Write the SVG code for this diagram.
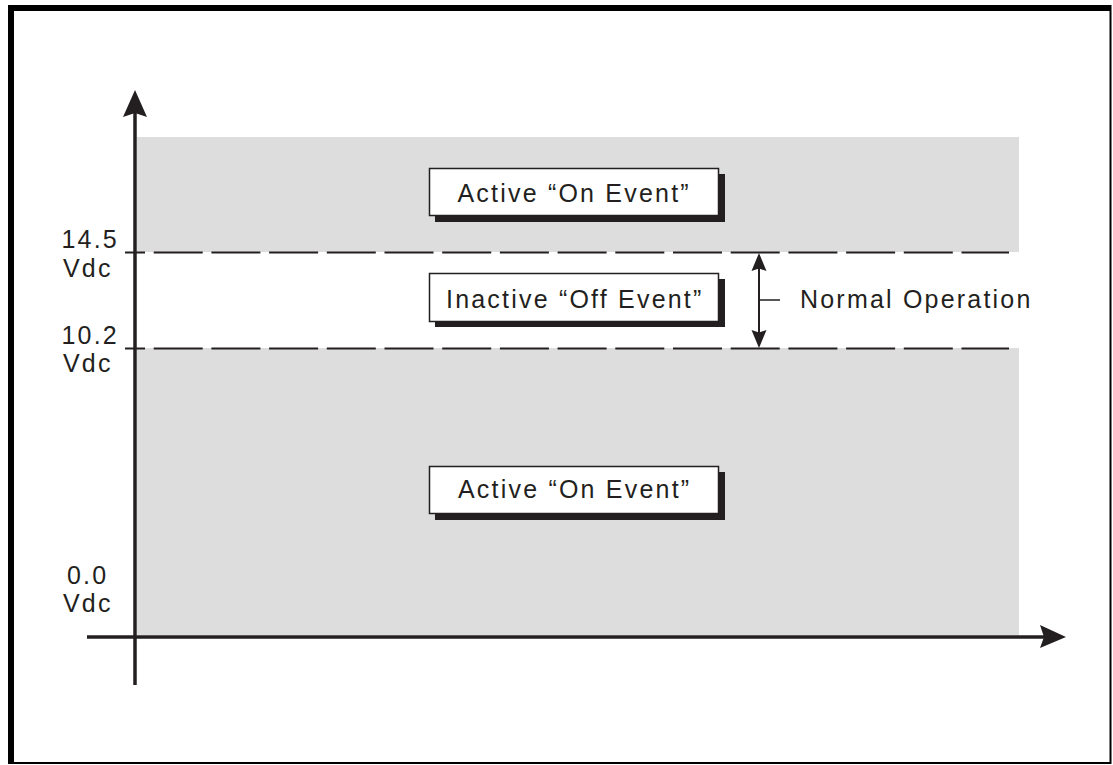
<svg xmlns="http://www.w3.org/2000/svg" width="1113" height="765" viewBox="0 0 1113 765">
<style>
.lbl{font-family:"Liberation Sans",Arial,sans-serif;font-size:25px;letter-spacing:2.2px;fill:#231f20}
.dash{stroke:#231f20;stroke-width:2;fill:none;stroke-dasharray:49 8.7;stroke-dashoffset:29}
.box{fill:#fff;stroke:#231f20;stroke-width:1.5}
.shadow{fill:#231f20}
.ink{fill:#231f20}
.axis{stroke:#231f20;stroke-width:3.5;fill:none}
</style>
<rect width="1113" height="765" fill="#fff"/>
<g id="frame" fill="none" stroke="#000">
<line x1="11" y1="5" x2="11" y2="764" stroke-width="6"/>
<line x1="8" y1="8" x2="1111" y2="8" stroke-width="6"/>
<line x1="1110.5" y1="5" x2="1110.5" y2="764" stroke-width="2"/>
<line x1="8" y1="763" x2="1111" y2="763" stroke-width="2"/>
</g>
<g id="bands" fill="#dddddd">
<rect x="137" y="137" width="882" height="115"/>
<rect x="137" y="348" width="882" height="287"/>
</g>
<g id="connectors">
<line class="dash" x1="125" y1="252.5" x2="1009" y2="252.5"/>
<line class="dash" x1="125" y1="348.5" x2="1009" y2="348.5"/>
<line class="axis" x1="135" y1="685" x2="135" y2="110"/>
<path class="ink" d="M135,90 L147,117 L135,113 L123,117 Z"/>
<line class="axis" x1="87" y1="637" x2="1048" y2="637"/>
<path class="ink" d="M1066,637 L1040,648 L1044,637 L1040,625 Z"/>
<line x1="759" y1="265" x2="759" y2="336" stroke="#231f20" stroke-width="2"/>
<path class="ink" d="M759,253 L766.5,271 L759,268.5 L751.5,271 Z"/>
<path class="ink" d="M759,348 L766.5,330 L759,332.5 L751.5,330 Z"/>
<line x1="759" y1="300" x2="780" y2="300" stroke="#231f20" stroke-width="1.5"/>
</g>
<g id="box-top">
<rect class="shadow" x="435" y="174" width="290" height="48"/>
<rect class="box" x="429.5" y="168.5" width="289" height="47"/>
<text class="lbl" x="457.5" y="202">Active “On Event”</text>
</g>
<g id="box-mid">
<rect class="shadow" x="435" y="279" width="290" height="48"/>
<rect class="box" x="429.5" y="273.5" width="289" height="48"/>
<text class="lbl" x="446" y="307.5">Inactive “Off Event”</text>
</g>
<g id="box-bot">
<rect class="shadow" x="435" y="472" width="290" height="48"/>
<rect class="box" x="429.5" y="466.5" width="289" height="47"/>
<text class="lbl" x="458" y="498">Active “On Event”</text>
</g>
<g id="labels">
<text class="lbl" x="61.5" y="248">14.5</text>
<text class="lbl" x="63" y="277">Vdc</text>
<text class="lbl" x="61.5" y="344">10.2</text>
<text class="lbl" x="63" y="372">Vdc</text>
<text class="lbl" x="67" y="583.5">0.0</text>
<text class="lbl" x="63" y="612">Vdc</text>
<text class="lbl" x="800" y="308">Normal Operation</text>
</g>
</svg>
